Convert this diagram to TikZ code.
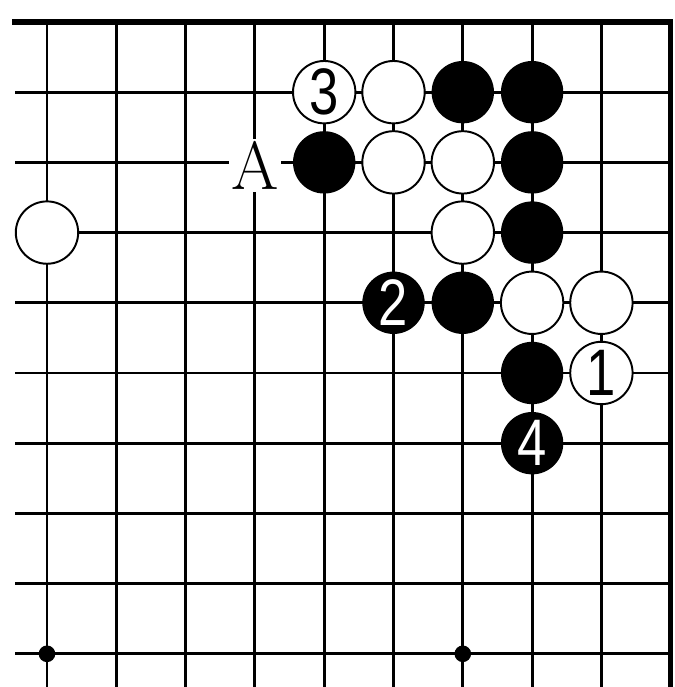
\documentclass[tikz,border=0pt]{standalone}
\usepackage{fontspec}
\newfontfamily\stonefont{Liberation Sans}
\usetikzlibrary{calc}

\begin{document}
\begin{tikzpicture}[
    x=1cm, y=-1.013cm,   % rows count downwards
    line width=1.2pt,
    bstone/.style={
        circle,
        fill=black,
        minimum size=0.9cm, % stone diameter
        inner sep=0pt,
        text=white,
        font=\stonefont\fontsize{27}{27}\selectfont
    },
    wstone/.style={
        circle,
        draw,
        line width=0.8pt,
        fill=white,
        minimum size=0.9cm,
        inner sep=0pt,
        font=\stonefont\fontsize{27}{27}\selectfont
    },
    hoshi/.style={circle, fill=black, minimum size=0.24cm, inner sep=0pt}
]
    \useasboundingbox (-0.678,-0.313) rectangle (9.062,9.473);

    % the board
    \foreach \r in {1,...,9}
        \draw (-0.46,\r) -- (9,\r);
    \foreach \c in {0,...,8}
        \draw (\c,0) -- (\c,9.473);
    \draw[line width=2.2pt] (-0.5,0) -- (9,0) -- (9,9.473);

    \node[hoshi] (h1) at (0,9) {};
    \node[hoshi] (h2) at (6,9) {};

    % stones
    \node[wstone] (w3) at (4,1) {\scalebox{0.8}[1]{3}};
    \node[wstone] (w51) at (5,1) {};
    \node[bstone] (b61) at (6,1) {};
    \node[bstone] (b71) at (7,1) {};

    \node[fill=white, inner sep=1pt, font=\fontsize{28}{28}\selectfont] (ptA) at (3,2.05) {A};
    \node[bstone] (b42) at (4,2) {};
    \node[wstone] (w52) at (5,2) {};
    \node[wstone] (w62) at (6,2) {};
    \node[bstone] (b72) at (7,2) {};

    \node[wstone] (w03) at (0,3) {};
    \node[wstone] (w63) at (6,3) {};
    \node[bstone] (b73) at (7,3) {};

    \node[bstone] (b2) at (5,4) {\scalebox{0.8}[1]{2}};
    \node[bstone] (b64) at (6,4) {};
    \node[wstone] (w74) at (7,4) {};
    \node[wstone] (w84) at (8,4) {};

    \node[bstone] (b75) at (7,5) {};
    \node[wstone] (w1) at (8,5) {\scalebox{0.8}[1]{1}};

    \node[bstone] (b4) at (7,6) {\scalebox{0.8}[1]{4}};
\end{tikzpicture}
\end{document}
